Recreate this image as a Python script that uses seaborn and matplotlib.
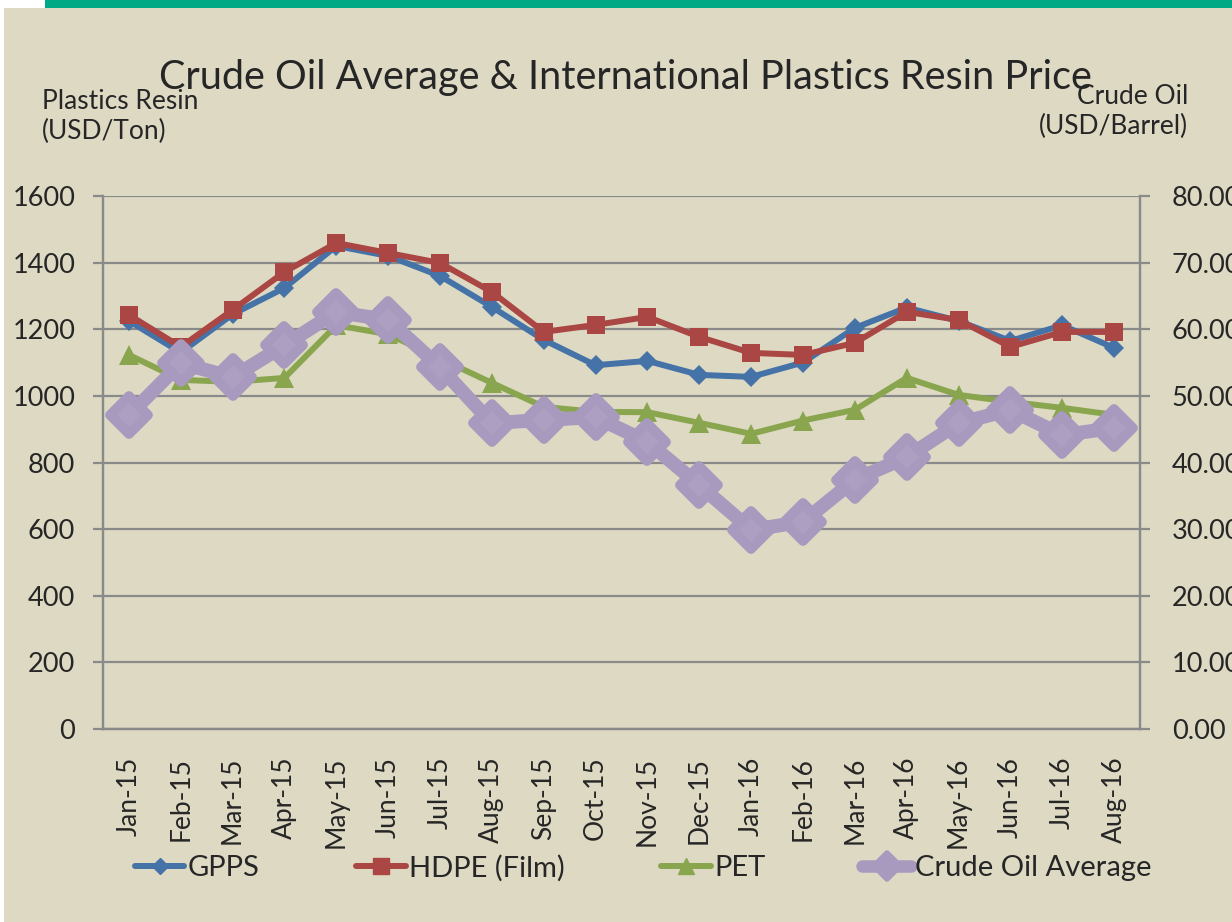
import pandas as pd
import matplotlib.pyplot as plt
from matplotlib.patches import Rectangle
from matplotlib.lines import Line2D
from matplotlib.markers import MarkerStyle
import seaborn as sns

# Data
months = ["Jan-15", "Feb-15", "Mar-15", "Apr-15", "May-15", "Jun-15", "Jul-15",
          "Aug-15", "Sep-15", "Oct-15", "Nov-15", "Dec-15", "Jan-16", "Feb-16",
          "Mar-16", "Apr-16", "May-16", "Jun-16", "Jul-16", "Aug-16"]
gpps = [1225, 1130, 1245, 1324, 1450, 1420, 1360, 1267, 1168, 1092,
        1105, 1063, 1057, 1100, 1204, 1265, 1225, 1165, 1212, 1144]
hdpe = [1243, 1147, 1258, 1372, 1459, 1429, 1399, 1312, 1192, 1213,
        1237, 1177, 1129, 1123, 1159, 1252, 1228, 1147, 1192, 1192]
pet = [1123, 1048, 1042, 1054, 1212, 1185, 1112, 1039, 967, 952,
       951, 919, 886, 926, 958, 1054, 1003, 982, 964, 943]
crude = [47.1, 54.9, 52.8, 57.6, 62.6, 61.4, 54.3, 45.9, 46.4, 46.8,
         43.1, 36.6, 29.9, 31.1, 37.4, 40.8, 45.9, 47.9, 44.1, 45.2]

df = pd.DataFrame({"Month": months, "idx": range(len(months)),
                   "GPPS": gpps, "HDPE": hdpe, "PET": pet, "Crude": crude})

BG = "#DDD9C3"
GRID = "#8A8A8A"
C_GPPS, C_HDPE, C_PET, C_OIL = "#4572A7", "#AA4643", "#89A54E", "#A899BE"
sns.set_style("white")
plt.rcParams["font.family"] = ["Lato", "DejaVu Sans"]

fig = plt.figure(figsize=(12.32, 9.22), dpi=100)
fig.patch.set_facecolor("white")
# beige panel and green top bar
fig.patches.append(Rectangle((4 / 1232, 0), 1, 1 - 8 / 922, transform=fig.transFigure,
                             facecolor=BG, edgecolor="none", zorder=-10))
fig.patches.append(Rectangle((45 / 1232, 1 - 8 / 922), 1, 8 / 922, transform=fig.transFigure,
                             facecolor="#00A985", edgecolor="none", zorder=-10))

ax = fig.add_axes([103 / 1232, 1 - 729 / 922, 1037 / 1232, 533 / 922])
ax.set_facecolor(BG)
ax2 = ax.twinx()

round_diamond = MarkerStyle("D", joinstyle="round")

sns.lineplot(data=df, x="idx", y="GPPS", ax=ax, color=C_GPPS, lw=4.3,
             marker="D", markersize=10, markeredgewidth=0, legend=False, zorder=3)
sns.lineplot(data=df, x="idx", y="HDPE", ax=ax, color=C_HDPE, lw=4.3,
             marker="s", markersize=13, markeredgewidth=0, legend=False, zorder=4)
sns.lineplot(data=df, x="idx", y="PET", ax=ax, color=C_PET, lw=4.3,
             marker="^", markersize=14, markeredgewidth=0, legend=False, zorder=3)
sns.lineplot(data=df, x="idx", y="Crude", ax=ax2, color=C_OIL, lw=10,
             marker=round_diamond, markersize=19, markeredgewidth=7, markeredgecolor=C_OIL,
             markerfacecolor="#AC9FC1", legend=False, zorder=5)

ax.set_xlim(-0.5, len(months) - 0.5)
ax.set_ylim(0, 1600)
ax2.set_ylim(0, 80)
ax.set_yticks(range(0, 1601, 200))
ax2.set_yticks(range(0, 81, 10))
ax2.set_yticklabels([f"{v:.2f}" for v in range(0, 81, 10)])
ax.set_xticks(range(len(months)))
ax.set_xticklabels(months, rotation=90)
ax.set_xticks([i - 0.5 for i in range(len(months) + 1)], minor=True)

ax.grid(axis="y", color=GRID, lw=1.6)
ax.set_axisbelow(True)
ax.set_xlabel("")
ax.set_ylabel("")
ax2.set_ylabel("")
ax.tick_params(axis="x", which="major", length=0, pad=20, labelsize=19)
ax.tick_params(axis="x", which="minor", length=7, width=1.6, color=GRID, direction="out")
ax.tick_params(axis="y", length=7, width=1.6, color=GRID, pad=13, labelsize=19.5, left=True)
ax2.tick_params(axis="y", length=7, width=1.6, color=GRID, pad=16, labelsize=19.5, right=True)
for a in (ax, ax2):
    for s in a.spines.values():
        s.set_color(GRID)
        s.set_linewidth(1.6)
    a.spines["top"].set_visible(False)

fig.text(0.508, 1 - 77 / 922, "Crude Oil Average & International Plastics Resin Price",
         ha="center", va="center", fontsize=28.5)
fig.text(42 / 1232, 1 - 89 / 922, "Plastics Resin\n(USD/Ton)", ha="left", va="top",
         fontsize=19, linespacing=1.25)
fig.text(1188 / 1232, 1 - 84 / 922, "Crude Oil\n(USD/Barrel)", ha="right", va="top",
         fontsize=19, linespacing=1.25, multialignment="right")

handles = [
    Line2D([], [], color=C_GPPS, lw=4.3, marker="D", markersize=8),
    Line2D([], [], color=C_HDPE, lw=4.3, marker="s", markersize=11),
    Line2D([], [], color=C_PET, lw=4.3, marker="^", markersize=12),
    Line2D([], [], color=C_OIL, lw=9, marker=round_diamond, markersize=13, markeredgewidth=4),
]
labels = ["GPPS", "HDPE (Film)", "PET", "Crude Oil Average"]
fig.legend(handles, labels, loc="center", bbox_to_anchor=(0.522, 1 - 868 / 922),
           ncol=4, frameon=False, handlelength=1.7, handletextpad=0.12,
           columnspacing=3.3, prop={"family": ["Liberation Sans Narrow", "Lato"], "size": 21})

fig.savefig("out.png", dpi=100, facecolor=fig.get_facecolor())
